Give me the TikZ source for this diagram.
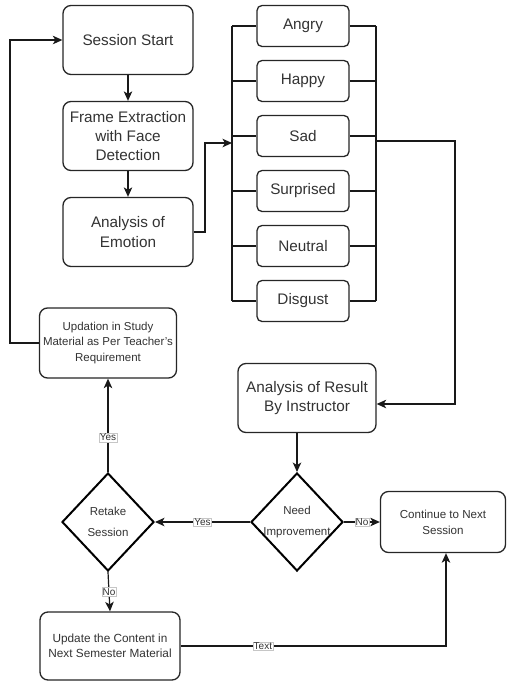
\documentclass[tikz,border=0pt]{standalone}
\usepackage{fontspec}
\setmainfont{Liberation Sans}
\usetikzlibrary{arrows.meta,shapes.geometric}
\begin{document}
\begin{tikzpicture}[x=1pt,y=-1pt,
  box/.style={draw=black!85, line width=1.3pt, rounded corners=8pt, fill=white, text=black!80, align=center, inner sep=1pt},
  big/.style={font=\fontsize{15.3}{19.3}\selectfont},
  emo/.style={box, rounded corners=5pt, minimum width=92pt, minimum height=41pt, big},
  small/.style={font=\fontsize{11.5}{15.5}\selectfont},
  dia/.style={draw=black, line width=2pt, diamond, minimum width=92pt, minimum height=98pt, inner sep=0pt, fill=white},
  dtext/.style={font=\fontsize{11.5}{20.7}\selectfont, text=black!80, align=center},
  conn/.style={draw=black!90, line width=1.2pt},
  arr/.style={conn, -{Stealth[length=9.5pt,width=8.5pt,inset=2.5pt]}},
  lab/.style={fill=white, draw=gray!45, line width=0.4pt, inner sep=0.8pt, text=black!80, font=\fontsize{10}{11}\selectfont}
]
\useasboundingbox (0,0) rectangle (507,681);

% main column
\node[box, big, minimum width=130pt, minimum height=69pt] (ss) at (128,40) {Session Start};
\node[box, big, minimum width=130pt, minimum height=69pt] (fe) at (128,136) {Frame Extraction\\with Face\\Detection};
\node[box, big, minimum width=130pt, minimum height=69pt] (ae) at (128,232) {Analysis of\\Emotion};

% emotions
\node[emo] (angry) at (303,26) {Angry};
\node[emo] (happy) at (303,81) {Happy};
\node[emo] (sad) at (303,136) {Sad};
\node[emo] (surp) at (303,191) {Surprised};
\node[emo] (neut) at (303,246) {Neutral};
\node[emo] (disg) at (303,301) {Disgust};

% buses
\coordinate (lt) at (232,26);
\coordinate (lb) at (232,301);
\coordinate (rt) at (376,26);
\coordinate (rb) at (376,301);
\draw[conn] (lt) -- (lb);
\draw[conn] (rt) -- (rb);
\foreach \n in {angry,happy,sad,surp,neut,disg}{
  \draw[conn] (lt |- \n.west) -- (\n.west);
  \draw[conn] (\n.east) -- (rt |- \n.east);
}

% lower nodes
\node[box, big, minimum width=138pt, minimum height=69pt] (ar) at (307,398) {Analysis of Result\\By Instructor};
\node[box, small, minimum width=137pt, minimum height=70pt] (up) at (108,343) {Updation in Study\\Material as Per Teacher's\\Requirement};
\node[dia, label={[dtext]center:{Need\\Improvement}}] (ni) at (297,522) {};
\node[dia, label={[dtext]center:{Retake\\Session}}] (rs) at (108,522) {};
\node[box, font=\fontsize{11.6}{16}\selectfont, minimum width=125pt, minimum height=61pt] (co) at (443,522) {Continue to Next\\Session};
\node[box, font=\fontsize{11.8}{14.7}\selectfont, minimum width=140pt, minimum height=68pt] (uc) at (110,646) {Update the Content in\\Next Semester Material};

% connectors
\draw[arr] (ss) -- (fe);
\draw[arr] (fe) -- (ae);
\coordinate (e1) at (205,232);
\coordinate (e2) at (205,143);
\coordinate (e3) at (232,143);
\draw[arr] (ae.east |- e1) -- (e1) -- (e2) -- (e3);

\coordinate (s1) at (376,141);
\coordinate (s2) at (455,141);
\coordinate (s3) at (455,404);
\draw[arr] (s1) -- (s2) -- (s3) -- (ar.east |- s3);

\draw[arr] (ar.south -| ni.north) -- (ni.north);
\draw[arr] (ni.west) -- node[lab]{Yes} (rs.east);
\draw[arr] (ni.east) -- node[lab]{No} (co.west);
\draw[arr] (rs.north) -- node[lab, pos=0.37]{Yes} (up.south);
\draw[arr] (rs.south) -- node[lab]{No} (uc.north);

\coordinate (u1) at (10,343);
\coordinate (u2) at (10,40);
\draw[arr] (up.west) -- (u1) -- (u2) -- (ss.west);

\coordinate (c1) at (446,646);
\draw[arr] (uc.east) -- node[lab, pos=0.31]{Text} (c1) -- (c1 |- co.south);
\end{tikzpicture}
\end{document}
